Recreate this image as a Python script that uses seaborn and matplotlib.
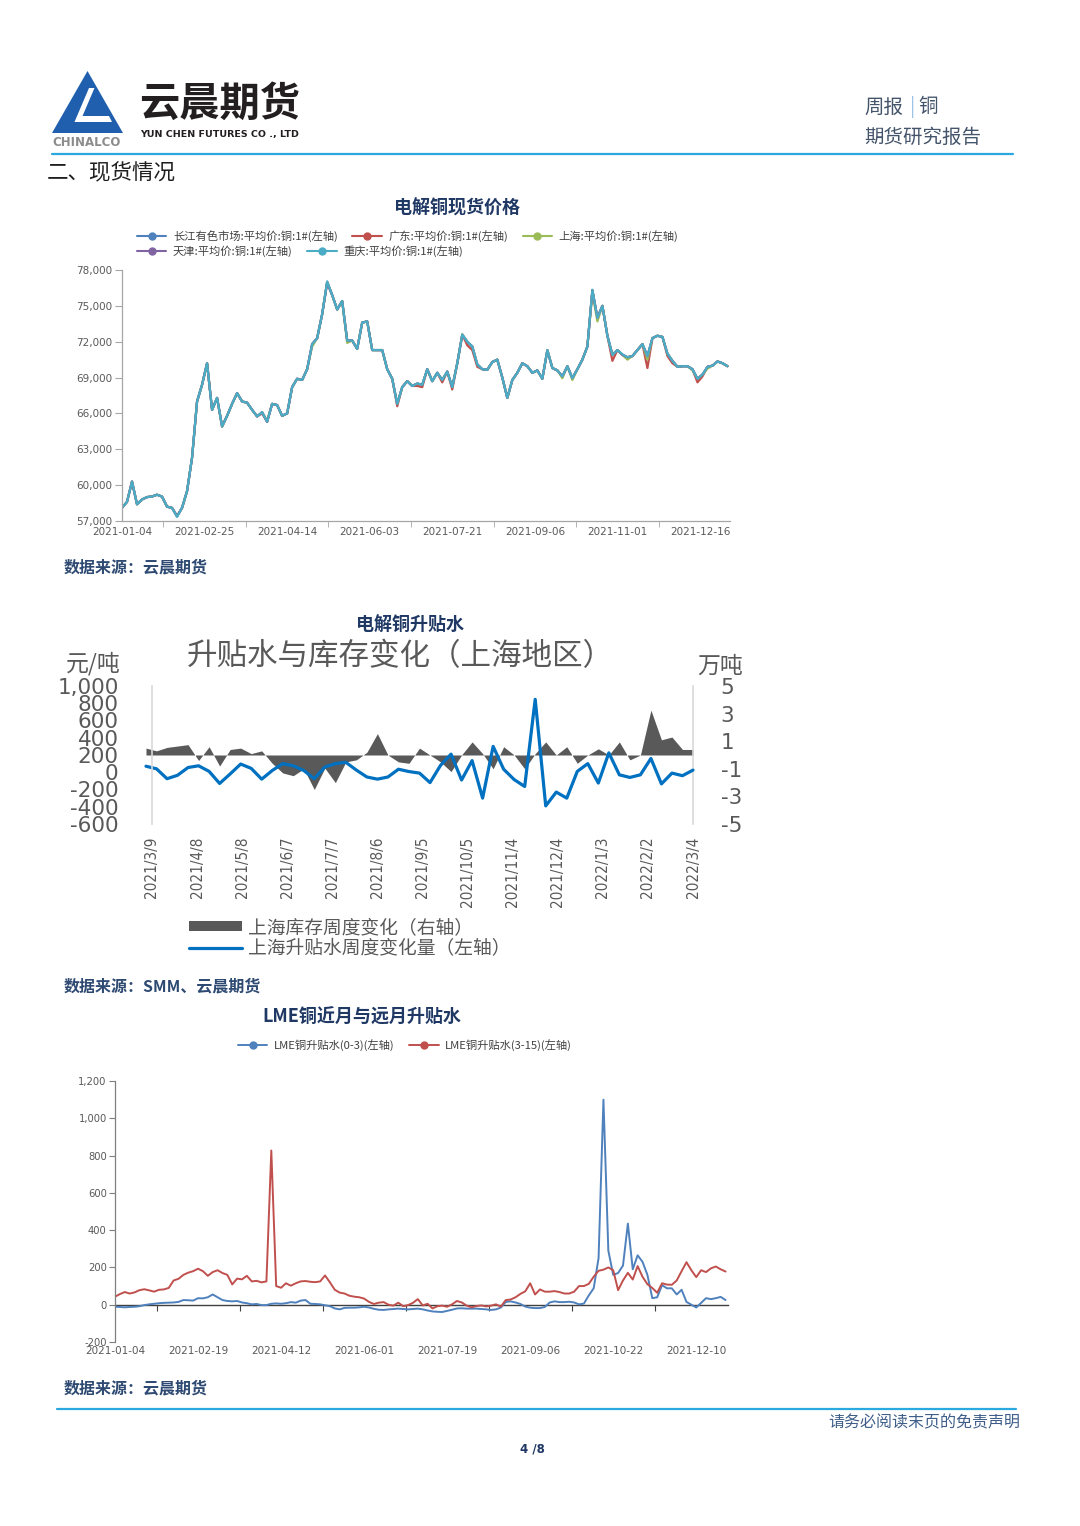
import numpy as np
import pandas as pd
import matplotlib
matplotlib.use('Agg')
import matplotlib.pyplot as plt
import seaborn as sns
from matplotlib.patches import Polygon, Patch
from matplotlib.lines import Line2D
from matplotlib.ticker import FuncFormatter

sns.set_style('white')
plt.rcParams['font.family'] = ['DejaVu Sans', 'Noto Sans CJK SC']
plt.rcParams['axes.unicode_minus'] = False
CJK = ['Noto Sans CJK SC', 'DejaVu Sans']

# ---------------- data: chart 1 (spot price, every 2nd trading day of 2021) ----------------
spot_tick_labels = ['2021-01-04', '2021-02-25', '2021-04-14', '2021-06-03',
                    '2021-07-21', '2021-09-06', '2021-11-01', '2021-12-16']
spot_regions = ['长江有色市场:平均价:铜:1#(左轴)', '广东:平均价:铜:1#(左轴)', '上海:平均价:铜:1#(左轴)',
                '天津:平均价:铜:1#(左轴)', '重庆:平均价:铜:1#(左轴)']
spot_colors = ['#4F81BD', '#C0504D', '#9BBB59', '#8064A2', '#4BACC6']

changjiang = [
    58100, 58600, 60300, 58400, 58800, 59000, 59050, 59200, 59040, 58200,
    58100, 57400, 58100, 59500, 62300, 67000, 68400, 70200, 66300, 67300,
    64900, 65800, 66800, 67700, 67000, 66900, 66300, 65750, 66100, 65300,
    66800, 66700, 65800, 66000, 68200, 68900, 68800, 69700, 71800, 72300,
    74300, 77000, 75900, 74700, 75400, 72100, 72100, 71400, 73600, 73700,
    71300, 71300, 71300, 69700, 68900, 66800, 68200, 68700, 68300, 68500,
    68400, 69700, 68700, 69400, 68800, 69500, 68200, 70200, 72600, 72000,
    71600, 70100, 69700, 69650, 70300, 70500, 69000, 67300, 68800, 69400,
    70200, 69950, 69400, 69600, 68900, 71300, 69800, 69600, 69100, 69950,
    68950, 69700, 70500, 71600, 76300, 74000, 75000, 72500, 70900, 71300,
    70900, 70700, 70800, 71300, 71800, 70800, 72300, 72500, 72400, 71000,
    70400, 69900, 69950, 69950, 69700, 68900, 69250, 69900, 70000, 70350,
    70200, 69950]
guangdong = [
    58100, 58600, 60300, 58400, 58800, 59000, 59050, 59200, 59040, 58200,
    58100, 57400, 58100, 59500, 62300, 67000, 68400, 70200, 66300, 67300,
    64900, 65800, 66800, 67700, 67000, 66900, 66300, 65750, 66000, 65300,
    66800, 66700, 65800, 66000, 68200, 68900, 68800, 69700, 71800, 72300,
    74300, 77000, 75900, 74700, 75400, 72100, 72100, 71400, 73600, 73700,
    71300, 71300, 71300, 69700, 68900, 66600, 68200, 68700, 68300, 68300,
    68200, 69700, 68700, 69400, 68600, 69500, 68000, 70200, 72600, 71700,
    71300, 69900, 69700, 69650, 70300, 70500, 69000, 67300, 68800, 69400,
    70200, 69950, 69400, 69600, 68900, 71300, 69800, 69600, 69100, 69950,
    68950, 69700, 70500, 71600, 76300, 74000, 75000, 72500, 70400, 71300,
    70900, 70700, 70800, 71300, 71800, 69800, 72300, 72500, 72400, 70800,
    70200, 69900, 69950, 69950, 69700, 68600, 69100, 69900, 70000, 70350,
    70200, 69950]
shanghai = [
    58100, 58600, 60300, 58400, 58800, 59000, 59050, 59200, 59040, 58200,
    58100, 57400, 58100, 59500, 62300, 67000, 68400, 70200, 66300, 67300,
    64900, 65800, 66800, 67700, 67000, 66900, 66300, 65750, 66100, 65400,
    66800, 66700, 65800, 66000, 68200, 68900, 68800, 69700, 71600, 72300,
    74300, 77000, 75900, 74700, 75400, 71900, 72100, 71400, 73600, 73700,
    71300, 71300, 71300, 69700, 68900, 66800, 68200, 68700, 68300, 68500,
    68400, 69700, 68700, 69400, 68800, 69500, 68200, 70200, 72600, 72000,
    71600, 70100, 69700, 69650, 70300, 70500, 69000, 67300, 68800, 69400,
    70200, 69950, 69400, 69600, 68900, 71300, 69800, 69600, 68950, 69950,
    68800, 69700, 70500, 71600, 76100, 73700, 75000, 72500, 70900, 71300,
    70900, 70500, 70800, 71300, 71800, 70500, 72300, 72500, 72400, 71000,
    70400, 69900, 69950, 69950, 69600, 68900, 69250, 69750, 70000, 70350,
    70200, 69950]
tianjin = [
    58100, 58600, 60300, 58400, 58800, 59000, 59050, 59200, 59040, 58200,
    58100, 57400, 58100, 59500, 62300, 67000, 68400, 70200, 66300, 67300,
    64950, 65800, 66800, 67700, 67000, 66900, 66300, 65750, 66100, 65300,
    66800, 66700, 65800, 66000, 68200, 68900, 68800, 69700, 71800, 72300,
    74300, 76900, 75900, 74700, 75400, 72100, 72100, 71400, 73600, 73700,
    71300, 71300, 71300, 69700, 68900, 66800, 68200, 68700, 68300, 68500,
    68400, 69700, 68700, 69400, 68800, 69500, 68200, 70200, 72550, 72000,
    71600, 70100, 69700, 69650, 70300, 70500, 69000, 67300, 68800, 69400,
    70200, 69950, 69400, 69600, 68900, 71250, 69800, 69600, 69100, 69950,
    68950, 69700, 70500, 71600, 76300, 74000, 75000, 72500, 70900, 71300,
    70900, 70700, 70800, 71300, 71800, 70800, 72300, 72500, 72400, 71000,
    70400, 69900, 69950, 69950, 69700, 68900, 69250, 69900, 70000, 70350,
    70200, 69950]
chongqing = [
    58100, 58600, 60300, 58400, 58800, 59000, 59050, 59200, 59040, 58200,
    58100, 57350, 58100, 59500, 62300, 67000, 68400, 70200, 66300, 67300,
    64900, 65800, 66800, 67700, 67000, 66900, 66300, 65750, 66100, 65300,
    66800, 66700, 65800, 66000, 68200, 68900, 68800, 69700, 71800, 72300,
    74300, 77050, 75900, 74700, 75400, 72100, 72100, 71400, 73600, 73700,
    71300, 71300, 71300, 69700, 68900, 66800, 68200, 68700, 68300, 68500,
    68400, 69700, 68700, 69400, 68800, 69500, 68200, 70200, 72600, 72000,
    71600, 70100, 69700, 69650, 70300, 70500, 69000, 67300, 68800, 69400,
    70200, 69950, 69400, 69600, 68900, 71300, 69800, 69600, 69100, 69950,
    68950, 69700, 70500, 71600, 76350, 74000, 75000, 72500, 70900, 71300,
    70950, 70700, 70800, 71300, 71800, 70800, 72300, 72500, 72400, 71000,
    70400, 69900, 69950, 69950, 69700, 68900, 69250, 69900, 70000, 70350,
    70200, 69950]

# ---------------- data: chart 2 (weekly, Shanghai) ----------------
basis_tick_labels = ['2021/3/9', '2021/4/8', '2021/5/8', '2021/6/7', '2021/7/7', '2021/8/6',
                     '2021/9/5', '2021/10/5', '2021/11/4', '2021/12/4', '2022/1/3',
                     '2022/2/2', '2022/3/4']
basis_change = [70, 40, -75, -35, 55, 75, 10, -130, -20, 95,
                45, -80, 20, 100, 75, 20, -75, 60, 100, 115,
                25, -55, -80, -55, 35, 8, -10, -120, 80, 210,
                -90, 135, -300, 300, 35, -85, -165, 845, -390, -230,
                -300, 10, 100, -125, 225, -30, -60, -30, 160, -135,
                -10, -40, 25]
inventory_change = [0.5, 0.3, 0.55, 0.65, 0.75, -0.4, 0.6, -0.8, 0.4, 0.5,
                    0.1, 0.3, -0.6, -1.3, -1.5, -1.0, -2.5, -0.95, -2.0, -0.5,
                    -0.35, 0.2, 1.55, 0.0, -0.5, -0.6, 0.5, 0.0, -0.5, -1.2,
                    0.0, 0.95, 0.1, -1.0, 0.6, 0.0, -1.0, 0.1, 0.95, 0.0,
                    0.6, -0.6, 0.0, 0.45, 0.0, 0.95, -0.35, 0.0, 3.25, 1.1,
                    1.3, 0.4, 0.4]
weekly_dates = pd.date_range('2021-03-05', periods=len(basis_change), freq='7D')

# ---------------- data: chart 3 (LME, every 2nd trading day of 2021) ----------------
lme_tick_labels = ['2021-01-04', '2021-02-19', '2021-04-12', '2021-06-01',
                   '2021-07-19', '2021-09-06', '2021-10-22', '2021-12-10']
lme_names = ['LME铜升贴水(0-3)(左轴)', 'LME铜升贴水(3-15)(左轴)']
lme_0_3 = [-11, -12, -14, -12, -11, -8, -2, 2, 5, 8,
           10, 11, 12, 15, 25, 24, 22, 35, 34, 40,
           55, 40, 25, 20, 18, 20, 12, 8, 2, 4,
           -2, -2, 5, 7, 5, 8, 14, 11, 22, 25,
           5, 4, 2, -3, -8, -20, -25, -17, -16, -16,
           -14, -11, -15, -22, -27, -28, -25, -23, -21, -23,
           -25, -23, -21, -25, -31, -36, -38, -39, -33, -27,
           -20, -19, -21, -21, -21, -23, -25, -28, -25, -15,
           15, 18, 12, 4, -10, -16, -18, -18, -12, 12,
           18, 14, 14, 16, 12, 2, 6, 50, 88, 250,
           1100, 290, 160, 170, 210, 435, 190, 265, 230, 160,
           35, 40, 105, 88, 88, 55, 80, 15, 0, -15,
           10, 35, 30, 35, 42, 25]
lme_3_15 = [43, 57, 68, 60, 66, 78, 83, 77, 70, 80,
            82, 90, 130, 139, 160, 172, 180, 193, 180, 155,
            175, 185, 170, 160, 109, 140, 136, 155, 125, 128,
            120, 125, 827, 100, 91, 115, 102, 115, 125, 127,
            123, 121, 125, 157, 120, 80, 65, 60, 48, 43,
            40, 33, 15, 4, 11, 14, 0, -5, 11, -8,
            -2, 10, 30, -4, 5, -20, -8, -5, -11, 2,
            20, 12, -5, -14, -7, -4, -9, -5, 2, -10,
            25, 28, 40, 58, 72, 115, 55, 82, 70, 70,
            73, 68, 60, 60, 70, 100, 100, 112, 150, 182,
            188, 200, 185, 78, 130, 171, 135, 207, 150, 110,
            90, 64, 115, 108, 107, 130, 180, 228, 185, 148,
            185, 175, 195, 205, 190, 178]

# ---------------- figure ----------------
W, H = 1080, 1526
fig = plt.figure(figsize=(W / 100, H / 100), dpi=100)
fig.patch.set_facecolor('white')


def fx(x):
    return x / W


def fy(y):
    return 1 - y / H


def T(x, y, s, **kw):
    kw.setdefault('va', 'center')
    return fig.text(fx(x), fy(y), s, **kw)


comma = FuncFormatter(lambda v, p: f'{int(round(v)):,}')
TICK = '#595959'

# ---------------- header ----------------
fig.add_artist(Polygon([(fx(52), fy(133)), (fx(123), fy(133)), (fx(87.5), fy(71))],
                       closed=True, transform=fig.transFigure, facecolor='#1F5FAE', edgecolor='none'))
fig.add_artist(Polygon([(fx(89), fy(88)), (fx(94.5), fy(88)), (fx(82.5), fy(116)),
                        (fx(109), fy(116)), (fx(112), fy(122)), (fx(74.5), fy(122))],
                       closed=True, transform=fig.transFigure, facecolor='white', edgecolor='none'))
T(52, 143, 'CHINALCO', fontsize=8.5, fontweight='bold', color='#8C8C8C')
T(139, 104, '云晨期货', fontsize=29, fontweight='bold', color='#231F20', family=CJK)
T(140, 134, 'YUN CHEN FUTURES CO ., LTD', fontsize=6.8, fontweight='bold', color='#231F20')
T(864, 107, '周报', fontsize=14, color='#44546A', family=CJK)
T(910, 107, '|', fontsize=14, color='#9DC3E6', family=CJK)
T(918, 107, '铜', fontsize=14, color='#44546A', family=CJK)
T(864, 137, '期货研究报告', fontsize=14, color='#44546A', family=CJK)
fig.add_artist(Line2D([fx(52), fx(1013)], [fy(154), fy(154)], color='#29A9E0', lw=1.6,
                      transform=fig.transFigure))
T(47, 173, '二、现货情况', fontsize=15.5, color='#1F1F1F', family=CJK)

# ---------------- chart 1 ----------------
T(457, 208, '电解铜现货价格', fontsize=13, color='#1F3864', ha='center', family=CJK, fontweight='bold')
ax1 = fig.add_axes([fx(122), fy(521), (730 - 122) / W, (521 - 270) / H])
spot_step = 2
spot_days = np.arange(len(changjiang)) * spot_step
df1 = pd.DataFrame({'day': spot_days, spot_regions[0]: changjiang, spot_regions[1]: guangdong,
                    spot_regions[2]: shanghai, spot_regions[3]: tianjin, spot_regions[4]: chongqing})
df1 = df1.melt(id_vars='day', var_name='region', value_name='price')
sns.lineplot(data=df1, x='day', y='price', hue='region', hue_order=spot_regions,
             palette=spot_colors, ax=ax1, legend=False, linewidth=1.6, estimator=None, sort=False)
ax1.set_xlim(0, 243)
ax1.set_ylim(57000, 78000)
ax1.set_yticks(np.arange(57000, 78001, 3000))
ax1.yaxis.set_major_formatter(comma)
spot_label_pos = np.arange(len(spot_tick_labels)) * 33
ax1.set_xticks(spot_label_pos)
ax1.set_xticklabels(spot_tick_labels)
ax1.set_xticks(spot_label_pos[:-1] + 16.5, minor=True)
ax1.tick_params(axis='x', which='major', length=0, pad=4, labelsize=7.5, labelcolor=TICK)
ax1.tick_params(axis='x', which='minor', bottom=True, length=4, color='#A6A6A6', direction='out')
ax1.tick_params(axis='y', left=True, length=5, color='#A6A6A6', direction='out', labelsize=7.5,
                labelcolor=TICK, pad=2)
for s in ['top', 'right']:
    ax1.spines[s].set_visible(False)
for s in ['left', 'bottom']:
    ax1.spines[s].set_color('#A6A6A6')
    ax1.spines[s].set_linewidth(0.9)
ax1.set_xlabel('')
ax1.set_ylabel('')

h1 = [Line2D([], [], color=c, lw=1.5, marker='o', markersize=5) for c in spot_colors]
leg_kw = dict(frameon=False, handlelength=2.6, handletextpad=0.6, columnspacing=1.3,
              borderpad=0, borderaxespad=0, prop={'family': CJK, 'size': 8.1}, labelcolor='#404040')
fig.legend(h1[:3], spot_regions[:3], loc='center left', bbox_to_anchor=(fx(137), fy(236)), ncol=3, **leg_kw)
fig.legend(h1[3:], spot_regions[3:], loc='center left', bbox_to_anchor=(fx(137), fy(251)), ncol=2, **leg_kw)
T(64, 567, '数据来源：云晨期货', fontsize=11.5, color='#2E4A72', family=CJK, fontweight='bold')

# ---------------- chart 2 ----------------
T(410, 625, '电解铜升贴水', fontsize=13, color='#1F3864', ha='center', family=CJK, fontweight='bold')
T(400, 657, '升贴水与库存变化（上海地区）', fontsize=22, color=TICK, ha='center', family=CJK)
T(93, 664, '元/吨', fontsize=16.5, color=TICK, ha='center', family=CJK)
T(720, 666, '万吨', fontsize=16.5, color=TICK, ha='center', family=CJK)

ax2 = fig.add_axes([fx(152), fy(824), (693 - 152) / W, (824 - 686) / H])
ax2r = ax2.twinx()
ax2r.fill_between(weekly_dates, 0, inventory_change, color='#595959', lw=0, clip_on=False)
sns.lineplot(x=weekly_dates, y=basis_change, ax=ax2, color='#0070C0', linewidth=2.3, clip_on=False)
ax2.set_zorder(ax2r.get_zorder() + 1)
ax2.patch.set_visible(False)
ax2.set_xlim(pd.Timestamp('2021-03-09'), pd.Timestamp('2022-03-04'))
ax2.set_ylim(-600, 1000)
ax2r.set_ylim(-5, 5)
ax2.set_yticks(np.arange(-600, 1001, 200))
ax2.yaxis.set_major_formatter(comma)
ax2r.set_yticks([-5, -3, -1, 1, 3, 5])
ax2.set_xticks(pd.to_datetime(basis_tick_labels))
ax2.set_xticklabels(basis_tick_labels, rotation=90, fontsize=11, color=TICK, fontstretch='condensed')
ax2.tick_params(axis='x', length=0, pad=9)
ax2.tick_params(axis='y', which='major', length=0, labelsize=15.5, labelcolor=TICK, pad=24)
ax2r.tick_params(axis='y', which='major', length=0, labelsize=15.5, labelcolor=TICK, pad=20)
ax2.set_yticks([-600, 1000], minor=True)
ax2r.set_yticks([-5, 5], minor=True)
ax2.tick_params(axis='y', which='minor', left=True, direction='inout', length=8, color='#D9D9D9', width=1.2)
ax2r.tick_params(axis='y', which='minor', right=True, direction='inout', length=8, color='#D9D9D9', width=1.2)
for a in (ax2, ax2r):
    for s in ['top', 'bottom']:
        a.spines[s].set_visible(False)
ax2.spines['right'].set_visible(False)
ax2r.spines['left'].set_visible(False)
ax2.spines['left'].set_color('#D9D9D9')
ax2r.spines['right'].set_color('#D9D9D9')
ax2.spines['left'].set_linewidth(1.2)
ax2r.spines['right'].set_linewidth(1.2)
for a in (ax2, ax2r):
    a.set_xlabel('')
    a.set_ylabel('')

h2 = [Patch(facecolor='#595959', edgecolor='none'), Line2D([], [], color='#0070C0', lw=2.3)]
fig.legend(h2, ['上海库存周度变化（右轴）', '上海升贴水周度变化量（左轴）'], loc='center left',
           bbox_to_anchor=(fx(189), fy(938)), frameon=False, prop={'family': CJK, 'size': 13.5},
           handlelength=2.8, handleheight=0.47, handletextpad=0.35, labelspacing=0.0,
           borderpad=0, borderaxespad=0, labelcolor=TICK)
T(64, 986, '数据来源：SMM、云晨期货', fontsize=11.5, color='#2E4A72', family=CJK, fontweight='bold')

# ---------------- chart 3 ----------------
T(362, 1017, 'LME铜近月与远月升贴水', fontsize=13, color='#1F3864', ha='center', family=CJK, fontweight='bold')
ax3 = fig.add_axes([fx(115), fy(1342), (728 - 115) / W, (1342 - 1081) / H])
lme_step = 2
lme_days = np.arange(len(lme_0_3)) * lme_step
df3 = pd.DataFrame({'day': lme_days, lme_names[0]: lme_0_3, lme_names[1]: lme_3_15})
df3 = df3.melt(id_vars='day', var_name='series', value_name='value')
lme_colors = ['#4F81BD', '#C0504D']
sns.lineplot(data=df3, x='day', y='value', hue='series', hue_order=lme_names, palette=lme_colors,
             ax=ax3, legend=False, linewidth=1.4, estimator=None, sort=False)
ax3.set_xlim(0, 251)
y3min, y3max = -200, 1200
ax3.set_ylim(y3min, y3max)
ax3.set_yticks(np.arange(-200, 1201, 200))
ax3.yaxis.set_major_formatter(comma)
lme_label_pos = np.arange(len(lme_tick_labels)) * 34
ax3.set_xticks(lme_label_pos)
ax3.set_xticklabels(lme_tick_labels)
ax3.tick_params(axis='x', length=0, pad=3, labelsize=7.5, labelcolor=TICK)
ax3.tick_params(axis='y', left=True, length=4, color='#7F7F7F', direction='out', labelsize=7.2,
                labelcolor=TICK, pad=2)
for s in ['top', 'right', 'bottom']:
    ax3.spines[s].set_visible(False)
ax3.spines['left'].set_color('#7F7F7F')
ax3.spines['left'].set_linewidth(0.9)
ax3.set_xlabel('')
ax3.set_ylabel('')
zero_axis = ax3.secondary_xaxis((0 - y3min) / (y3max - y3min))
zero_axis.set_xticks(lme_label_pos[:-1] + 17)
zero_axis.set_xticklabels([])
zero_axis.tick_params(axis='x', bottom=True, length=4, direction='out', color='#404040')
zero_axis.spines['bottom'].set_color('#404040')
zero_axis.spines['bottom'].set_linewidth(1.0)

h3 = [Line2D([], [], color=c, lw=1.4, marker='o', markersize=5) for c in lme_colors]
fig.legend(h3, lme_names, loc='center left', bbox_to_anchor=(fx(238), fy(1045)), ncol=2,
           frameon=False, prop={'family': CJK, 'size': 8.1}, handlelength=2.6, handletextpad=0.6,
           columnspacing=1.3, borderpad=0, borderaxespad=0, labelcolor='#404040')
T(64, 1388, '数据来源：云晨期货', fontsize=11.5, color='#2E4A72', family=CJK, fontweight='bold')

# ---------------- footer ----------------
fig.add_artist(Line2D([fx(57), fx(1016)], [fy(1409), fy(1409)], color='#29A9E0', lw=1.6,
                      transform=fig.transFigure))
T(1020, 1423, '请务必阅读末页的免责声明', fontsize=11.5, color='#3F5E8A', ha='right', family=CJK)
T(532, 1449, '4 /8', fontsize=8.5, color='#1F3864', ha='center', fontweight='bold')

fig.savefig('out.png', dpi=100, facecolor='white')
